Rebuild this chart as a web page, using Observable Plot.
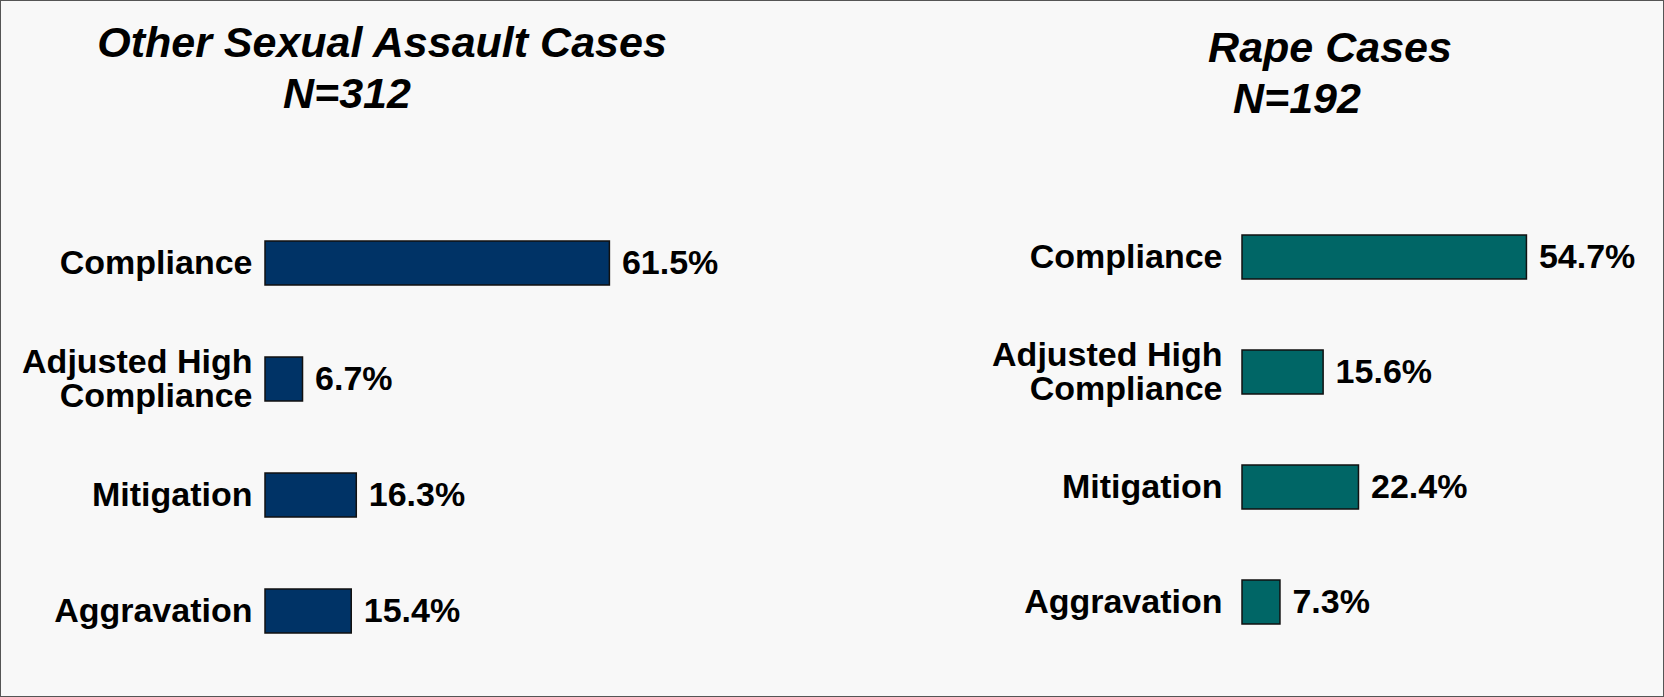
<!DOCTYPE html>
<html>
<head>
<meta charset="utf-8">
<script src="https://cdn.jsdelivr.net/npm/d3@7"></script>
<script src="https://cdn.jsdelivr.net/npm/@observablehq/plot@0.6"></script>
<style>
  html, body { margin: 0; padding: 0; background: #f8f8f8; }
  #wrap { position: relative; width: 1664px; height: 697px; box-sizing: border-box;
          border: 1px solid #555; background: #f8f8f8; overflow: hidden;
          font-family: "Liberation Sans", Arial, sans-serif; }
  .title { position: absolute; width: 700px; text-align: center; font-size: 43px;
           line-height: 43px; font-weight: bold; font-style: italic; color: #000; white-space: nowrap; }
  .panel { position: absolute; top: 0; }
</style>
</head>
<body>
<div id="wrap"></div>
<script>
const categories = ["Compliance", "Adjusted High Compliance", "Mitigation", "Aggravation"];
const otherValues = [61.5, 6.7, 16.3, 15.4];
const rapeValues = [54.7, 15.6, 22.4, 7.3];
const panelTitles = ["Other Sexual Assault Cases", "Rape Cases"];
const panelN = ["N=312", "N=192"];
const panelColors = ["#003366", "#006666"];

const wrap = document.getElementById("wrap");

function panel({values, color, width, marginLeft, marginRight, xMax, marginTop, marginBottom, tickPadding}) {
  const data = categories.map((c, i) => ({category: c, value: values[i]}));
  return Plot.plot({
    width, height: 697, marginLeft, marginRight, marginTop, marginBottom,
    style: {background: "transparent", fontFamily: "'Liberation Sans', Arial, sans-serif", overflow: "visible", color: "#000"},
    x: {domain: [0, xMax], axis: null},
    y: {domain: categories, paddingInner: 0.62, paddingOuter: 0.2, axis: null},
    marks: [
      Plot.barX(data, {x: "value", y: "category", fill: color, stroke: "#111", strokeWidth: 1.5}),
      Plot.text(data, {x: "value", y: "category", text: d => d.value.toFixed(1) + "%", dx: 12,
        textAnchor: "start", fontSize: 34, fontWeight: "bold", fill: "#000"}),
      Plot.axisY({tickSize: 0, tickPadding, fontSize: 34, fontWeight: "bold", label: null, fill: "#000",
        tickFormat: d => d === "Adjusted High Compliance" ? "Adjusted High\nCompliance" : d})
    ]
  });
}

const left = panel({values: otherValues, color: panelColors[0], width: 830, marginLeft: 264, marginRight: 6,
  xMax: 100, marginTop: 217, marginBottom: 41, tickPadding: 13});
left.classList.add("panel");
left.style.left = "0px";
wrap.appendChild(left);

const right = panel({values: rapeValues, color: panelColors[1], width: 834, marginLeft: 411, marginRight: 7,
  xMax: 80, marginTop: 210, marginBottom: 50, tickPadding: 20});
right.classList.add("panel");
right.style.left = "830px";
wrap.appendChild(right);

function addTitle(text, cx, baseline) {
  const d = document.createElement("div");
  d.className = "title";
  d.textContent = text;
  d.style.left = (cx - 350) + "px";
  d.style.top = (baseline - 36) + "px";
  wrap.appendChild(d);
}
addTitle(panelTitles[0], 381, 56);
addTitle(panelN[0], 346, 107);
addTitle(panelTitles[1], 1329, 61);
addTitle(panelN[1], 1296, 112);
</script>
</body>
</html>
